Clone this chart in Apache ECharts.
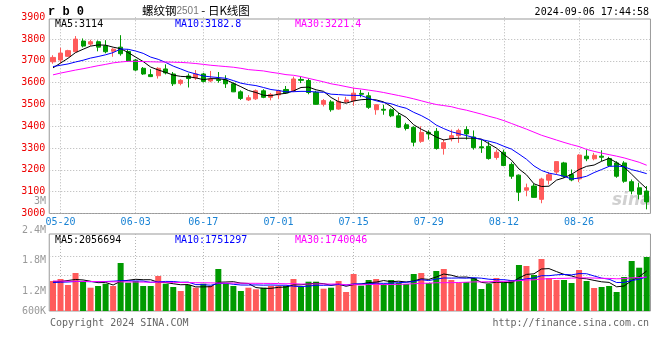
<!DOCTYPE html>
<html><head><meta charset="utf-8">
<script src="https://cdn.jsdelivr.net/npm/echarts@6.0.0/dist/echarts.min.js"></script>
<style>html,body{margin:0;padding:0;background:#fff}#c{width:660px;height:360px}</style>
</head><body><div id="c"></div>
<script>
// ---- data ----
const dates = ['05-17','05-20','05-21','05-22','05-23','05-24','05-27','05-28','05-29','05-30','05-31',
'06-03','06-04','06-05','06-06','06-07','06-11','06-12','06-13','06-14','06-17','06-18','06-19','06-20','06-21','06-24','06-25','06-26','06-27','06-28',
'07-01','07-02','07-03','07-04','07-05','07-08','07-09','07-10','07-11','07-12','07-15','07-16','07-17','07-18','07-19','07-22','07-23','07-24','07-25','07-26','07-29','07-30','07-31',
'08-01','08-02','08-05','08-06','08-07','08-08','08-09','08-12','08-13','08-14','08-15','08-16','08-19','08-20','08-21','08-22','08-23','08-26','08-27','08-28','08-29','08-30',
'09-02','09-03','09-04','09-05','09-06'];
const opens  = [3696,3704,3721,3742,3791,3777,3788,3769,3744,3763,3743,3704,3666,3637,3632,3663,3640,3597,3631,3622,
3640,3608,3615,3613,3595,3558,3521,3526,3563,3533,3544,3569,3563,3615,3610,3556,3501,3512,3479,3512,
3517,3551,3540,3476,3478,3476,3448,3407,3395,3331,3372,3377,3298,3343,3357,3385,3351,3306,3308,3257,
3281,3225,3176,3107,3126,3065,3153,3190,3232,3179,3159,3263,3251,3263,3252,3232,3232,3146,3118,3103];
const closes = [3716,3736,3747,3800,3768,3788,3763,3742,3754,3733,3700,3658,3640,3628,3666,3645,3595,3611,3619,3640,
3606,3617,3610,3595,3558,3528,3531,3563,3533,3546,3563,3553,3617,3611,3555,3501,3518,3476,3514,3521,
3552,3547,3487,3499,3474,3448,3396,3390,3327,3372,3365,3298,3325,3357,3381,3365,3302,3301,3252,3281,
3220,3171,3098,3118,3074,3158,3178,3238,3171,3154,3268,3251,3267,3258,3220,3171,3148,3103,3088,3053];
const lows   = [3687,3689,3718,3739,3762,3769,3744,3735,3719,3724,3695,3654,3636,3626,3619,3638,3585,3588,3578,3613,
3601,3602,3600,3576,3557,3521,3516,3521,3529,3519,3526,3549,3557,3598,3547,3499,3491,3467,3476,3506,
3494,3533,3480,3453,3453,3442,3392,3381,3308,3324,3339,3293,3270,3331,3324,3339,3293,3278,3247,3247,
3217,3159,3057,3079,3073,3047,3133,3179,3164,3148,3144,3240,3244,3240,3214,3164,3141,3088,3065,3019];
const highs  = [3726,3760,3751,3814,3803,3797,3794,3795,3758,3818,3752,3709,3672,3662,3671,3684,3649,3616,3642,3658,
3645,3654,3649,3634,3601,3565,3543,3569,3570,3553,3565,3585,3628,3628,3620,3563,3525,3520,3534,3535,
3576,3567,3556,3501,3499,3482,3462,3416,3400,3400,3382,3392,3340,3385,3389,3400,3381,3339,3330,3293,
3293,3235,3179,3137,3137,3164,3190,3238,3237,3202,3272,3293,3278,3290,3260,3240,3240,3156,3141,3126];
const ma5  = [3668,3690,3712,3738,3753.4,3767.8,3773.2,3772.2,3763,3756,3738.4,3717.4,3697,3671.8,3658.4,3647.4,3634.8,3629,3627.2,3622,
3614.2,3618.6,3618.4,3613.6,3597.2,3581.6,3564.4,3555,3542.6,3540.2,3547.2,3551.6,3562.4,3578,3579.8,3567.4,3560.4,3532.2,3512.8,3506,
3516.2,3522,3524.2,3521.2,3511.8,3491,3460.8,3441.4,3407,3386.6,3370,3350.4,3337.4,3343.4,3345.2,3345.2,3346,3341.2,3320.2,3300.2,
3271.2,3245,3204.4,3177.6,3136.2,3123.8,3125.2,3153.2,3163.8,3179.8,3201.8,3216.4,3222.2,3239.6,3252.8,3233.4,3212.8,3180,3146,3114];
const ma10 = [3674,3680,3686,3695,3703,3713,3720,3728,3738,3754.7,3753.1,3745.3,3734.6,3717.4,3707.2,3692.9,3676.1,3663,3649.5,3640.2,
3630.8,3626.7,3623.7,3620.4,3609.6,3597.9,3591.5,3586.7,3578.1,3568.7,3564.4,3558,3558.7,3560.3,3560,3557.3,3556,3547.3,3545.4,3542.9,
3541.8,3541.2,3528.2,3517,3508.9,3503.6,3491.4,3482.8,3464.1,3449.2,3430.5,3405.6,3389.4,3375.2,3365.9,3357.6,3348.2,3339.3,3331.8,3322.7,
3308.2,3295.5,3272.8,3248.9,3218.2,3197.5,3185.1,3178.8,3170.7,3158,3162.8,3170.8,3187.7,3201.7,3216.3,3217.6,3214.6,3201.1,3192.8,3182.8];
const ma30 = [3636,3644,3651,3658,3664,3671,3678,3684,3691,3695,3698,3698,3697,3696,3695,3695,3694,3693,3691,3688,
3684,3680,3677,3674,3671,3666,3660,3657,3654,3648,3643,3637,3634,3628,3620,3612,3604,3595,3589,3582,
3575,3571,3566,3561,3555,3548,3541,3534,3526,3517,3508,3500,3495,3490,3481,3474,3465,3456,3446,3437,
3426,3413,3400,3387,3373,3359,3348,3337,3326,3316,3307,3294,3285,3277,3270,3263,3255,3245,3235,3221.4];
// volume in thousand lots
const volume = [1539,1642,1334,1949,1503,1195,1283,1400,1283,2462,1452,1539,1283,1283,1796,1400,1231,1026,1334,1195,
1400,1283,2155,1400,1283,1026,1195,1113,1195,1283,1283,1283,1642,1231,1503,1503,1144,1195,1539,975,
1898,1298,1590,1642,1385,1590,1436,1385,1898,1949,1436,2052,2155,1590,1436,1488,1693,1129,1385,1693,
1436,1590,2360,2309,1847,2668,1693,1590,1590,1436,2103,1539,1180,1231,1283,975,1744,2565,2221,2770];
const volMa5  = [1488,1513,1565,1616,1593,1525,1453,1466,1333,1525,1576,1627,1604,1604,1470,1460,1398,1347,1357,1237,
1237,1248,1473,1487,1504,1429,1412,1203,1162,1162,1214,1231,1337,1344,1388,1432,1405,1315,1377,1271,
1350,1381,1460,1481,1563,1501,1529,1488,1539,1652,1621,1744,1898,1837,1734,1744,1672,1467,1426,1477,
1467,1447,1693,1878,1908,2155,2175,2021,1878,1796,1683,1652,1570,1498,1467,1241,1283,1560,1758,2056.694];
const volMa10 = [1462,1477,1488,1513,1513,1503,1503,1513,1529,1559,1550,1540,1535,1468,1497,1518,1513,1475,1481,1354,
1349,1323,1410,1422,1371,1333,1330,1338,1325,1333,1322,1322,1270,1253,1275,1323,1318,1326,1360,1330,
1391,1393,1388,1429,1417,1426,1455,1474,1510,1607,1561,1636,1693,1688,1693,1683,1708,1683,1631,1606,
1606,1560,1580,1652,1693,1811,1811,1857,1878,1852,1919,1913,1796,1688,1631,1462,1467,1565,1628,1751.297];
const volMa30 = [1539,1534,1529,1524,1518,1513,1508,1503,1498,1498,1493,1488,1483,1477,1477,1472,1467,1462,1457,1452,
1447,1442,1436,1431,1431,1426,1421,1421,1416,1415,1407,1395,1405,1381,1381,1391,1387,1380,1389,1339,
1354,1346,1356,1368,1354,1360,1368,1379,1398,1424,1425,1450,1450,1456,1462,1477,1494,1494,1501,1514,
1520,1530,1553,1589,1601,1640,1658,1671,1673,1688,1695,1703,1689,1676,1672,1652,1662,1702,1712,1740.046];
const tickDates = ['05-20','06-03','06-17','07-01','07-15','07-29','08-12','08-26'];
const volTickLabels = ['2.4M','1.8M','1.2M','600K'];
const priceMin = 3000, priceMax = 3900, priceStep = 100;
const volMax = 3950;

// ---- styling ----
const UP = '#ff5b5b', DOWN = '#009a00';
const MONO = '"DejaVu Sans Mono", "Liberation Mono", monospace';
const GRIDC = '#b4b4b4';
const L = 49.24, R = 9.54;

const chart = echarts.init(document.getElementById('c'));
const isTick = (i, v) => tickDates.indexOf(v) >= 0;
const dotted = {color: GRIDC, width: 1, type: [1, 2]};

function txt(x, y, text, fill, align, extra) {
  return Object.assign({type: 'text', x: x, y: y, silent: true,
    style: {text: text, fill: fill, align: align || 'left', verticalAlign: 'middle', font: '10px ' + MONO}}, extra || {});
}
const graphics = [
  {type: 'text', x: 48, y: 12, style: {text: 'r b 0', fill: '#000', align: 'left', verticalAlign: 'middle', font: 'bold 12px "Liberation Mono", monospace'}},
  {type: 'text', x: 142, y: 11, style: {text: '{a|螺纹钢}{b|2501}{a| - 日K线图}', verticalAlign: 'middle', align: 'left',
    rich: {a: {fontFamily: '"Noto Sans CJK SC"', fontSize: 11.5, fill: '#000'}, b: {fontFamily: 'Arial, "Liberation Sans"', fontSize: 10, fill: '#777'}}}},
  txt(649, 12, '2024-09-06 17:44:58', '#000', 'right'),
  txt(55, 24, 'MA5:' + ma5[ma5.length - 1], '#000'),
  txt(175, 24, 'MA10:' + ma10[ma10.length - 1], '#0000ff'),
  txt(295, 24, 'MA30:' + ma30[ma30.length - 1], '#ff00ff'),
  txt(46, 201, '3M', '#999', 'right'),
  txt(55, 240, 'MA5:2056694', '#000'),
  txt(175, 240, 'MA10:1751297', '#0000ff'),
  txt(295, 240, 'MA30:1740046', '#ff00ff'),
  txt(50, 323, 'Copyright 2024 SINA.COM', '#666'),
  txt(649, 323, 'http://finance.sina.com.cn', '#666', 'right'),
  {type: 'text', x: 612, y: 201, style: {text: 'sina', fill: 'rgba(120,120,120,0.35)', verticalAlign: 'middle', font: 'italic bold 17px "DejaVu Sans"'}}
];
const volLabelY = [230, 260, 291, 311];
volTickLabels.forEach((t, k) => graphics.push(txt(46, volLabelY[k], t, '#999', 'right')));

const lineS = (data, color, xi, yi) => ({type: 'line', data: data, xAxisIndex: xi, yAxisIndex: yi, symbol: 'none',
  lineStyle: {color: color, width: 1}, itemStyle: {color: color}, silent: true, z: 3});
const hiddenAxis = (g) => ({type: 'value', gridIndex: g, min: 0, max: 1, show: false});

chart.setOption({
  animation: false,
  backgroundColor: '#fff',
  grid: [
    // 0: price data
    {left: L, right: R, top: 17.3, height: 196.2, show: false},
    // 1: volume data + frame
    {left: L, right: R, top: 234, height: 77, show: true, borderColor: '#999', borderWidth: 1, backgroundColor: 'transparent'},
    // 2: volume horizontal guide lines
    {left: L, right: R, top: 236, height: 79, show: false},
    // 3: price frame
    {left: L, right: R, top: 19, height: 194.5, show: true, borderColor: '#999', borderWidth: 1, backgroundColor: 'transparent'}
  ],
  xAxis: [
    {type: 'category', gridIndex: 0, data: dates, boundaryGap: true,
      axisLine: {show: false}, axisTick: {show: false},
      axisLabel: {interval: isTick, color: '#1a83d4', fontFamily: MONO, fontSize: 10, margin: 4},
      splitLine: {show: true, interval: isTick, alignWithLabel: true, lineStyle: dotted}},
    {type: 'category', gridIndex: 1, data: dates, boundaryGap: true,
      axisLine: {show: false}, axisTick: {show: false}, axisLabel: {show: false},
      splitLine: {show: true, interval: isTick, alignWithLabel: true, lineStyle: dotted}},
    hiddenAxis(2),
    hiddenAxis(3)
  ],
  yAxis: [
    {type: 'value', gridIndex: 0, min: priceMin, max: priceMax, interval: priceStep,
      axisLine: {show: false}, axisTick: {show: false},
      axisLabel: {color: '#ee0000', fontFamily: MONO, fontSize: 10, margin: 4, padding: [0, 0, 4, 0],
        formatter: v => String(v)},
      splitLine: {show: true, showMaxLine: false, lineStyle: dotted}},
    {type: 'value', gridIndex: 1, min: 0, max: volMax,
      axisLine: {show: false}, axisTick: {show: false}, axisLabel: {show: false},
      splitLine: {show: false}},
    {type: 'value', gridIndex: 2, min: 0, max: 4, interval: 1,
      axisLine: {show: false}, axisTick: {show: false}, axisLabel: {show: false},
      splitLine: {show: true, showMinLine: false, showMaxLine: false, lineStyle: dotted}},
    hiddenAxis(3)
  ],
  series: [
    {type: 'candlestick', xAxisIndex: 0, yAxisIndex: 0, barWidth: 4.6, silent: true, z: 2,
      data: dates.map((d, i) => [opens[i], closes[i], lows[i], highs[i]]),
      itemStyle: {color: UP, color0: DOWN, borderColor: UP, borderColor0: DOWN, borderWidth: 1}},
    lineS(ma5, '#000000', 0, 0),
    lineS(ma10, '#0000ff', 0, 0),
    lineS(ma30, '#ff00ff', 0, 0),
    {type: 'bar', xAxisIndex: 1, yAxisIndex: 1, barWidth: 6, silent: true, z: 2,
      data: volume.map((v, i) => ({value: v, itemStyle: {color: closes[i] >= opens[i] ? UP : DOWN}}))},
    lineS(volMa5, '#000000', 1, 1),
    lineS(volMa10, '#0000ff', 1, 1),
    lineS(volMa30, '#ff00ff', 1, 1)
  ],
  graphic: graphics
});
</script>
</body></html>
